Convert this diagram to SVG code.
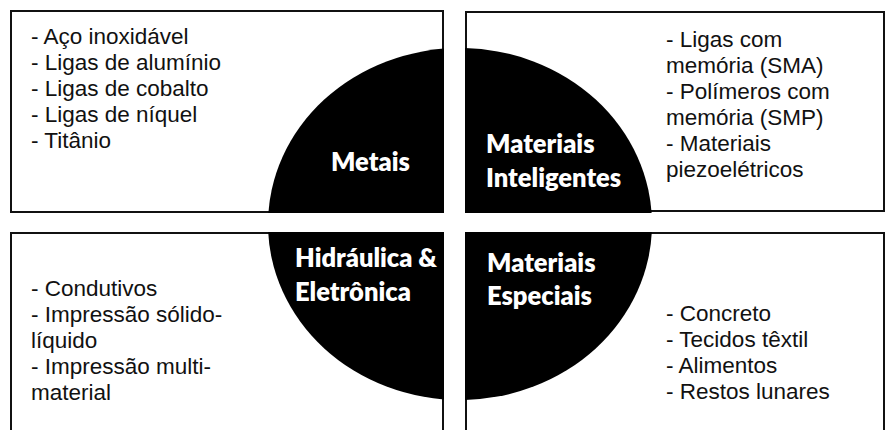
<svg xmlns="http://www.w3.org/2000/svg" width="887" height="430" viewBox="0 0 887 430">
<style>
.box{fill:#fff;stroke:#111;stroke-width:2}
.blob{fill:#000}
.item{font-family:"Liberation Sans",Arial,sans-serif;font-size:22.5px;fill:#111}
.lbl{font-family:Lato,"Open Sans",sans-serif;font-weight:800;font-size:25.5px;fill:#fff}
</style>
<defs>
<ellipse id="disc" cx="460" cy="224" rx="192" ry="176"/>
<clipPath id="cTL"><rect x="0" y="0" width="444" height="213"/></clipPath>
<clipPath id="cTR"><rect x="465" y="0" width="422" height="213"/></clipPath>
<clipPath id="cBL"><rect x="0" y="232" width="444" height="198"/></clipPath>
<clipPath id="cBR"><rect x="465" y="232" width="422" height="198"/></clipPath>
</defs>
<rect width="887" height="430" fill="#fff"/>
<g id="connectors"></g>
<g id="metais">
<rect class="box" x="11" y="11" width="432" height="201"/>
<use href="#disc" class="blob" clip-path="url(#cTL)"/>
<text class="item" x="31" y="43.5">- Aço inoxidável</text>
<text class="item" x="31" y="69.5">- Ligas de alumínio</text>
<text class="item" x="31" y="95.5">- Ligas de cobalto</text>
<text class="item" x="31" y="121.5">- Ligas de níquel</text>
<text class="item" x="31" y="147.5">- Titânio</text>
<text class="lbl" x="331" y="171">Metais</text>
</g>
<g id="materiais-inteligentes">
<rect class="box" x="466" y="12" width="418" height="199"/>
<use href="#disc" class="blob" clip-path="url(#cTR)"/>
<text class="item" x="666" y="46.5">- Ligas com</text>
<text class="item" x="666" y="72.5">memória (SMA)</text>
<text class="item" x="666" y="98.5">- Polímeros com</text>
<text class="item" x="666" y="124.5">memória (SMP)</text>
<text class="item" x="666" y="150.5">- Materiais</text>
<text class="item" x="666" y="176.5">piezoelétricos</text>
<text class="lbl" x="486" y="153">Materiais</text>
<text class="lbl" x="486" y="187">Inteligentes</text>
</g>
<g id="hidraulica-eletronica">
<rect class="box" x="11" y="233" width="432" height="210"/>
<use href="#disc" class="blob" clip-path="url(#cBL)"/>
<text class="item" x="31" y="295.5">- Condutivos</text>
<text class="item" x="31" y="321.5">- Impressão sólido-</text>
<text class="item" x="31" y="347.5">líquido</text>
<text class="item" x="31" y="373.5">- Impressão multi-</text>
<text class="item" x="31" y="399.5">material</text>
<text class="lbl" x="295" y="267">Hidráulica &amp;</text>
<text class="lbl" x="295" y="301">Eletrônica</text>
</g>
<g id="materiais-especiais">
<rect class="box" x="466" y="233" width="418" height="210"/>
<use href="#disc" class="blob" clip-path="url(#cBR)"/>
<text class="item" x="666" y="320.5">- Concreto</text>
<text class="item" x="666" y="346.5">- Tecidos têxtil</text>
<text class="item" x="666" y="372.5">- Alimentos</text>
<text class="item" x="666" y="398.5">- Restos lunares</text>
<text class="lbl" x="487" y="272">Materiais</text>
<text class="lbl" x="487" y="305">Especiais</text>
</g>
</svg>
